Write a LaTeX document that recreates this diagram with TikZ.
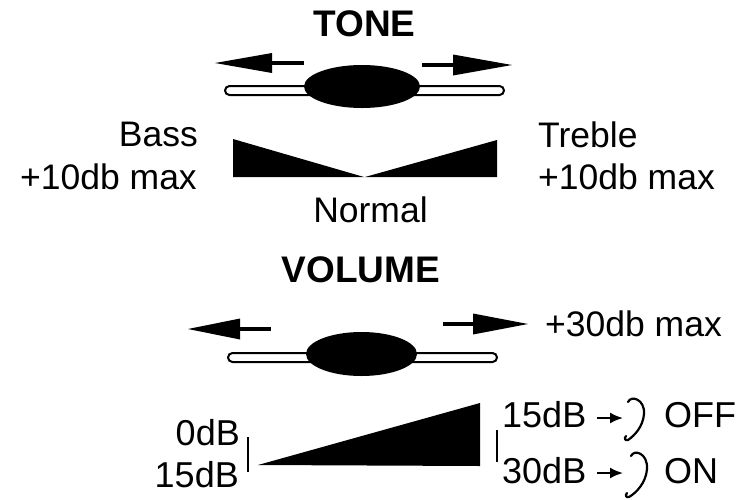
\documentclass[tikz,border=0pt]{standalone}
\usepackage{fontspec}
\setmainfont{Liberation Sans}
\usetikzlibrary{arrows.meta}
\tikzset{
  lbl/.style={font=\fontsize{35.5}{42}\selectfont, inner sep=0pt},
  dbl/.style={font=\fontsize{36}{42}\selectfont, inner sep=0pt},
  ttl/.style={font=\bfseries\fontsize{37}{44}\selectfont, inner sep=0pt},
  barbox/.style={draw=black, fill=white, line width=2pt, rounded corners=4.5pt},
  knob/.style={fill=black},
  shaft/.style={line width=4pt},
  tick/.style={line width=2pt},
  smallarr/.style={line width=2pt, -{Latex[length=13pt,width=11pt]}},
  curl/.style={line width=2.2pt, line cap=round}
}
\begin{document}
\begin{tikzpicture}[x=1pt,y=-1pt]
\useasboundingbox (0,0) rectangle (753,499);

% ---------------- TONE ----------------
\node[ttl, anchor=base] (tone) at (364.5,36) {TONE};
% arrows
\draw[shaft] (304,63) -- (270,63);
\fill (272,53) -- (215,63) -- (272,73) -- cycle;
\draw[shaft] (422,65) -- (455,65);
\fill (453,54.5) -- (512,65) -- (453,75.5) -- cycle;
% slider
\draw[barbox] (225,86) rectangle (504,95);
\fill[knob] (362,86.5) ellipse [x radius=58, y radius=21.5];
% wedges
\fill (233,139) -- (364,177) -- (233,177) -- cycle;
\fill (365,177) -- (497,140) -- (497,177) -- cycle;
% labels
\node[lbl, anchor=base east] (bass) at (198,146) {Bass};
\node[lbl, anchor=base east] (bassmax) at (197,189) {+10db max};
\node[lbl, anchor=base west] (treble) at (538,147) {Treble};
\node[lbl, anchor=base west] (treblemax) at (538,189) {+10db max};
\node[lbl, anchor=base] (normal) at (370.5,222) {Normal};

% ---------------- VOLUME ----------------
\node[ttl, anchor=base] (volume) at (361,282) {VOLUME};
\draw[shaft] (271,329) -- (238,329);
\fill (240,318.5) -- (188,329) -- (240,339.5) -- cycle;
\draw[shaft] (443,324) -- (475,324);
\fill (473,313.5) -- (528,324) -- (473,334.5) -- cycle;
\node[lbl, anchor=base west] (volmax) at (545,336) {+30db max};
% slider
\draw[barbox] (228,353) rectangle (497,362);
\fill[knob] (361.5,354) ellipse [x radius=55.5, y radius=22];
% wedge
\fill (258,465) -- (480,403) -- (480,466) -- cycle;
\draw[tick] (248,437) -- (248,472);
\draw[tick] (497,430) -- (497,462);
% labels
\node[dbl, anchor=base east] (zero) at (240,445) {0dB};
\node[dbl, anchor=base east] (fifteenL) at (239,487) {15dB};
\node[dbl, anchor=base west] (fifteenR) at (502,427) {15dB};
\node[dbl, anchor=base west] (thirty) at (502,483) {30dB};
\node[dbl, anchor=base west] (off) at (664,427) {OFF};
\node[dbl, anchor=base west] (on) at (664,483) {ON};
% small arrows
\coordinate (a1s) at (597,418);
\coordinate (a1e) at (623,418);
\coordinate (a2s) at (597,473);
\coordinate (a2e) at (623,473);
\draw[smallarr] (a1s) -- (a1e);
\draw[smallarr] (a2s) -- (a2e);
% curl symbols
\draw[curl] (628,402) .. controls (631,395) and (645,399) .. (644,414)
  .. controls (643,427) and (634,436) .. (628,440) .. controls (625,441) and (624,438) .. (626,436);
\draw[curl] (631,456) .. controls (634,449) and (648,453) .. (647,469)
  .. controls (646,483) and (636,493) .. (629,497) .. controls (626,498) and (625,495) .. (627,493);
\end{tikzpicture}
\end{document}
